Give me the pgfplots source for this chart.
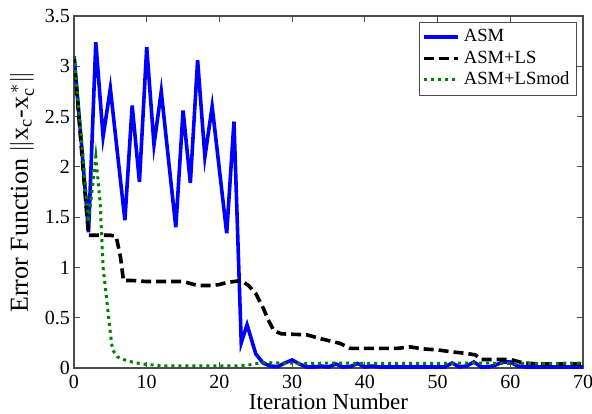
\documentclass[border=0pt]{standalone}
\usepackage{pgfplots}
\pgfplotsset{compat=1.18}
\usepackage{amsmath}
\usepackage{fontspec}
\setmainfont{Liberation Serif}
\definecolor{mgreen}{RGB}{0,128,0}
\begin{document}
\begin{tikzpicture}
\begin{axis}[
  scale only axis,
  width=254.5pt, height=176pt,
  xmin=0, xmax=70, ymin=0, ymax=3.5,
  xtick={0,10,...,70},
  ytick={0,0.5,1,1.5,2,2.5,3,3.5},
  yticklabels={0,0.5,1,1.5,2,2.5,3,3.5},
  tick align=inside,
  major tick length=3pt,
  axis line style={black!70, line width=0.6pt},
  tick style={black!70, line width=0.5pt},
  /pgf/number format/assume math mode=true,
  tick label style={font=\fontsize{10}{12}\selectfont},
  yticklabel style={xshift=1.5pt},
  xlabel={Iteration Number},
  ylabel={Error Function $\|$x$_{\text{c}}$-x$_{\text{c}}^{\,*}$$\|$},
  xlabel style={at={([yshift=-20.5pt]axis description cs:0.5,0)}, anchor=base,
    font=\fontsize{11.5}{13}\selectfont},
  ylabel style={at={([xshift=-26pt]axis description cs:0,0.5)}, anchor=center,
    font=\fontsize{13}{15}\selectfont},
  legend style={at={(0.988,0.983)}, anchor=north east, draw=black!70,
    font=\fontsize{9.3}{11}\selectfont, inner sep=1.5pt, row sep=-1pt},
  legend cell align=left,
]
\addplot[blue, line width=1.8pt] coordinates {
(0,3.1)(1,2.25)(2,1.35)(3,3.24)(4,2.30)(5,2.78)(6,2.12)(7,1.47)(8,2.61)(9,1.85)
(10,3.19)(11,2.22)(12,2.75)(13,2.07)(14,1.40)(15,2.56)(16,1.84)(17,3.06)(18,2.10)(19,2.60)
(20,1.97)(21,1.34)(22,2.45)(23,0.25)(23.8,0.43)(25,0.14)(26,0.05)(27,0.02)(28,0.013)(29,0.05)
(30,0.08)(31,0.04)(32,0.01)(33,0.01)(34,0.02)(35,0.01)(36,0.04)(37,0.01)(38,0.015)(39,0.045)
(40,0.01)(41,0.02)(42,0.01)(45,0.01)(48,0.01)(51,0.01)(52,0.05)(53,0.01)(54,0.02)(55,0.06)
(56,0.01)(57,0.01)(58,0.03)(59,0.06)(60,0.06)(61,0.02)(62,0.01)(66,0.01)(70,0.01)
};
\addlegendentry{ASM}
\addplot[black, line width=1.8pt, dash pattern=on 5pt off 2.5pt] coordinates {
(0,3.1)(1,2.2)(2,1.32)(3,1.32)(4,1.32)(5,1.32)(5.8,1.31)(6.4,1.1)(6.8,0.87)(8,0.87)
(10,0.86)(12,0.86)(15,0.86)(16,0.84)(17,0.82)(19,0.82)(20,0.83)(21,0.85)(23,0.87)(24,0.82)
(25,0.74)(26,0.6)(26.7,0.48)(27.5,0.37)(28.5,0.34)(32,0.33)(34,0.29)(36.6,0.245)(38,0.195)(44.4,0.195)
(46.2,0.21)(48,0.19)(50,0.18)(52,0.16)(54,0.145)(55.2,0.13)(56,0.085)(60,0.085)(61.8,0.05)(64,0.04)
(67,0.04)(70,0.04)
};
\addlegendentry{ASM+LS}
\addplot[mgreen, line width=1.5pt, dash pattern=on 1.5pt off 2pt] coordinates {
(0,3.1)(1,2.3)(2,1.45)(3,2.1)(3.6,1.64)(4,1.0)(4.5,0.68)(5,0.35)(5.3,0.18)(6,0.11)
(7,0.08)(8,0.06)(9,0.045)(10,0.035)(11,0.03)(12,0.02)(16,0.02)(20,0.02)(22,0.02)(24,0.03)
(26,0.055)(28,0.05)(32,0.045)(36,0.05)(40,0.045)(45,0.045)(50,0.045)(55,0.05)(60,0.045)(65,0.045)
(70,0.05)
};
\addlegendentry{ASM+LSmod}
\end{axis}
\pgfresetboundingbox
\useasboundingbox ([shift={(-37pt,-22.5pt)}]current axis.south west) rectangle ([shift={(4.5pt,8pt)}]current axis.north east);
\end{tikzpicture}
\end{document}
